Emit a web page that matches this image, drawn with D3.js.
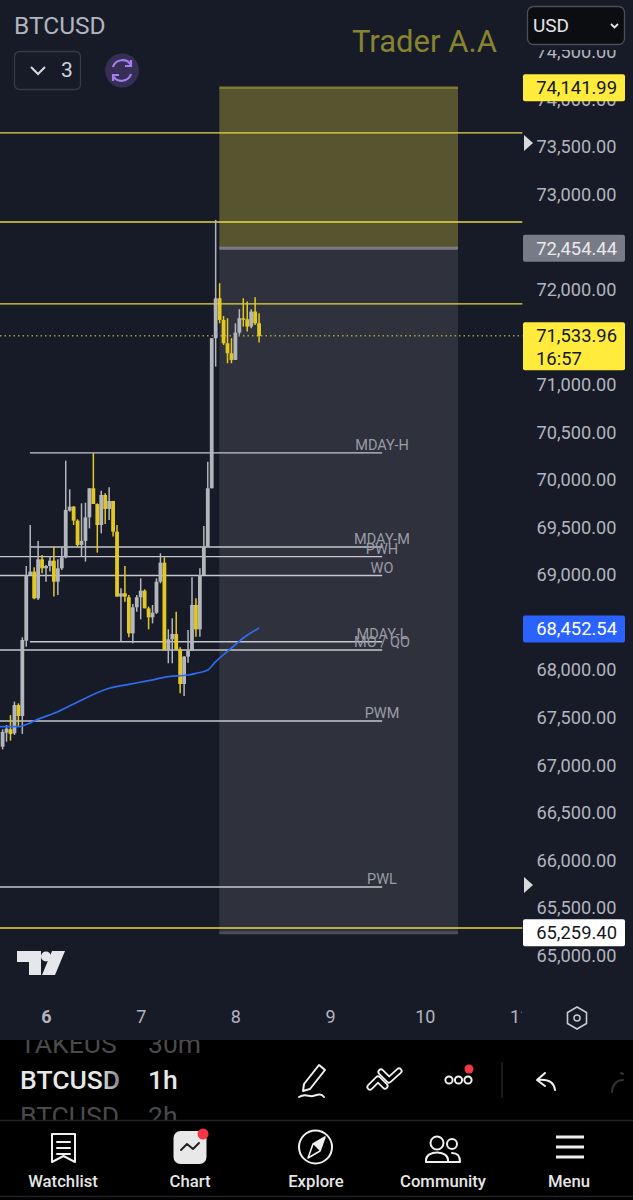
<!DOCTYPE html>
<html><head><meta charset="utf-8">
<script src="https://cdn.jsdelivr.net/npm/d3@7"></script>
<style>html,body{margin:0;padding:0;background:#000}svg{display:block}text{font-family:Roboto,sans-serif}</style>
</head><body><svg id="c" width="633" height="1200"></svg>
<script>
const hours=d3.range(-11,55);
const opens=[67190,67338,67373,67331,67628,67513,68305,68995,69031,68750,69160,69066,69090,69146,68925,69066,69181,69672,69714,69567,69311,69353,69602,69907,69742,69521,69837,69690,69774,69451,68768,68803,68761,68382,68656,68761,68831,68645,68550,68599,68925,69125,68207,68319,68375,68214,67849,68137,68200,68680,68424,68995,69293,69907,71485,71905,71677,71432,71327,71257,71544,71695,71684,71607,71765,71642];
const highs=[67373,67418,67523,67664,67646,68340,69090,69521,69076,69353,69206,69101,69188,69293,69160,69293,70198,69896,69721,69581,69749,69756,69907,70275,69749,69882,69854,69917,69774,69521,68855,69090,68785,68691,68785,68960,68845,68663,68680,68960,69223,69181,68424,68540,68610,68235,68144,68417,68971,68750,69066,69511,70187,71485,72729,72063,71719,71695,71485,71642,71790,71905,71870,71790,71916,71747];
const lows=[67162,67243,67254,67313,67401,67324,68242,68995,68740,68733,69013,68925,69031,68768,68785,69048,69171,69661,69521,69286,69195,69136,69486,69742,69230,69434,69532,69574,69399,68768,68295,68715,68340,68277,68610,68529,68645,68424,68487,68585,68908,68200,68067,68067,68207,67751,67723,68074,68200,68347,68347,68995,69293,69907,71187,71642,71414,71222,71222,71257,71520,71607,71555,71590,71625,71439];
const closes=[67345,67380,67324,67628,67513,68312,68995,69031,68750,69160,69066,69090,69146,68925,69066,69181,69679,69714,69567,69311,69353,69602,69907,69742,69521,69837,69690,69774,69451,68768,68803,68768,68382,68656,68761,68831,68645,68550,68599,68925,69125,68207,68319,68375,68214,67849,68137,68200,68680,68424,68995,69293,69907,71485,71905,71677,71432,71327,71257,71544,71695,71684,71607,71765,71642,71509];
const emaHours=[-12,-7,-4,-3,3,7,16,21,26,31,36,38,41,43,47,50,54];
const emaValues=[67401,67401,67439,67460,67558,67639,67804,67846,67884,67926,67944,67961,67997,68084,68228,68333,68438];
const priceTicks=d3.range(65000,75000,500).filter(v=>![72500,71500,68500].includes(v));
const dayTicks=[6,7,8,9,10,11];
const yellowLevels=[73643,72707,71845,65284];
const whiteLevelNames=["MDAY-H","MDAY-M","PWH","WO","MDAY-L","MO / QO","PWM","PWL"];
const whiteLevelValues=[70279,69290,69188,68990,68294,68207,67461,65715];
const whiteLevelStarts=[5.83,5.83,5.5,5.5,5.83,5.5,5.5,5.5];
const levelEnd=9.55, yellowEnd=11.03;
const zoneDays=[7.83,10.35];
const zonePrices=[74141.99,72454.44,65259.40];
const tagValues=[74141.99,72454.44,71533.96,68452.54,65259.40];
const tagLabels=["74,141.99","72,454.44","71,533.96","68,452.54","65,259.40"];
const tagFill=["#ffeb3b","#787b86","#ffeb3b","#2962ff","#ffffff"];
const tagText=["#131722","#e8e9ec","#131722","#ffffff","#131722"];
const navLabels=["Watchlist","Chart","Explore","Community","Menu"];

const svg=d3.select("#c");
const W=633,H=1200,TXT="#b2b5be",BG="#171b27",GOLD="#e2c824",GREY="#b4b6be";
const x=d3.scaleLinear().domain([6,11]).range([46,519.5]);
const xH=h=>x(6+h/24);
const y=d3.scaleLinear().domain([65000,74000]).range([955,99]);
const tagDy=2.3, yT=v=>y(v)+tagDy;

svg.append("rect").attr("width",W).attr("height",H).attr("fill","#000");
svg.append("rect").attr("width",W).attr("height",1040).attr("fill",BG);

// zone
const zx0=x(zoneDays[0]),zx1=x(zoneDays[1]);
svg.append("rect").attr("x",zx0).attr("width",zx1-zx0).attr("y",yT(zonePrices[0])).attr("height",yT(zonePrices[1])-yT(zonePrices[0])).attr("fill","#57552f");
svg.append("rect").attr("x",zx0).attr("width",zx1-zx0).attr("y",yT(zonePrices[1])).attr("height",yT(zonePrices[2])-yT(zonePrices[1])).attr("fill","#2f313c");
svg.append("line").attr("x1",zx0).attr("x2",zx1).attr("y1",yT(zonePrices[0])).attr("y2",yT(zonePrices[0])).attr("stroke","#7d7a2f").attr("stroke-width",2.5);
svg.append("line").attr("x1",zx0).attr("x2",zx1).attr("y1",yT(zonePrices[1])).attr("y2",yT(zonePrices[1])).attr("stroke","#787b86").attr("stroke-width",3);
svg.append("line").attr("x1",zx0).attr("x2",zx1).attr("y1",yT(zonePrices[2])).attr("y2",yT(zonePrices[2])).attr("stroke","#4a4c57").attr("stroke-width",3);

// axes
const ay=d3.axisRight(y).tickValues(priceTicks).tickFormat(d3.format(",.2f")).tickSize(0).tickPadding(0);
const gy=svg.append("g").attr("transform","translate(536.5,0.5)").call(ay);
gy.select(".domain").remove();
gy.selectAll("text").attr("fill",TXT).style("font-size","18.2px").style("font-family","Roboto,sans-serif");
svg.append("rect").attr("x",527).attr("y",44).attr("width",100).attr("height",6).attr("fill",BG);
svg.append("clipPath").attr("id","timeClip").append("rect").attr("x",0).attr("y",1000).attr("width",522).attr("height",40);
const ax=d3.axisBottom(x).tickValues(dayTicks).tickFormat(d3.format("d")).tickSize(0).tickPadding(0);
const gx=svg.append("g").attr("clip-path","url(#timeClip)").append("g").attr("transform","translate(0,1010.5)").call(ax);
gx.select(".domain").remove();
gx.selectAll("text").attr("fill",TXT).style("font-size","18px").style("font-family","Roboto,sans-serif").attr("font-weight",d=>d===6?700:400);

// levels
svg.selectAll(".yl").data(yellowLevels).join("line").attr("x1",0).attr("x2",x(yellowEnd)).attr("y1",d=>y(d)).attr("y2",d=>y(d)).attr("stroke","#e8d94a").attr("stroke-width",1.3);
whiteLevelValues.forEach((v,i)=>{
  svg.append("line").attr("x1",Math.max(0,x(whiteLevelStarts[i]))).attr("x2",x(levelEnd)).attr("y1",y(v)).attr("y2",y(v)).attr("stroke","#c6c7cd").attr("stroke-width",1.4);
  svg.append("text").attr("x",382).attr("y",y(v)-3).attr("text-anchor","middle").attr("fill","#9a9ca6").attr("font-size",14.5).text(whiteLevelNames[i]);
});
svg.append("line").attr("x1",0).attr("x2",x(yellowEnd)).attr("y1",yT(tagValues[2])).attr("y2",yT(tagValues[2])).attr("stroke","#e8d94a").attr("stroke-width",1).attr("stroke-dasharray","1.5 3");

// candles
const rows=hours.map((h,i)=>({h,o:opens[i],hi:highs[i],lo:lows[i],c:closes[i]}));
const col=d=>d.c>=d.o?GREY:GOLD;
const gc=svg.append("g");
gc.selectAll(".w").data(rows).join("line").attr("x1",d=>xH(d.h)).attr("x2",d=>xH(d.h)).attr("y1",d=>y(d.hi)).attr("y2",d=>y(d.lo)).attr("stroke",col).attr("stroke-width",1.5);
gc.selectAll(".b").data(rows).join("rect").attr("x",d=>xH(d.h)-1.9).attr("width",3.8).attr("y",d=>Math.min(y(d.o),y(d.c))).attr("height",d=>Math.max(1.5,Math.abs(y(d.o)-y(d.c)))).attr("fill",col);
// EMA
svg.append("path").attr("d",d3.line().x(d=>xH(d)).y((d,i)=>y(emaValues[i])).curve(d3.curveMonotoneX)(emaHours)).attr("fill","none").attr("stroke","#2f6bf0").attr("stroke-width",1.7);

// tags
tagValues.forEach((v,i)=>{
  const cy=yT(v), isLast=i===2, h=isLast?48:27, top=cy-13.5;
  svg.append("rect").attr("x",523).attr("y",top).attr("width",102).attr("height",h).attr("rx",2).attr("fill",tagFill[i]);
  svg.append("text").attr("x",617).attr("y",cy+6.5).attr("text-anchor","end").attr("fill",tagText[i]).attr("font-size",18.4).text(tagLabels[i]);
  if(isLast) svg.append("text").attr("x",536).attr("y",cy+29).attr("fill",tagText[i]).attr("font-size",18.4).text("16:57");
});
svg.selectAll(".tri").data([143,885]).join("path").attr("d",d=>`M524 ${d-8}L533 ${d}L524 ${d+8}Z`).attr("fill","#d8d9dd");

// header
const t=(s,xx,yy,size,fill,o={})=>svg.append("text").attr("x",xx).attr("y",yy).attr("font-size",size).attr("fill",fill).attr("text-anchor",o.a||"start").attr("font-weight",o.w||400).text(s);
t("BTCUSD",14,34,24.5,TXT);
t("Trader A.A",352,52,31,"#878330");
svg.append("rect").attr("x",14.5).attr("y",51.5).attr("width",66).attr("height",38).attr("rx",5).attr("fill","none").attr("stroke","#363a45").attr("stroke-width",1.3);
svg.append("path").attr("d","M31 67l7 7l7-7").attr("fill","none").attr("stroke","#d8d9dd").attr("stroke-width",2);
t("3",61,77,21,"#d1d4dc");
svg.append("circle").attr("cx",122).attr("cy",70.5).attr("r",17).attr("fill","#352e55");
svg.append("path").attr("d","M113 67a10 10 0 0 1 18-2M131 74a10 10 0 0 1-18 2M131 60v6h-6M113 81v-6h6").attr("fill","none").attr("stroke","#a67df0").attr("stroke-width",2.2);
svg.append("rect").attr("x",527.5).attr("y",6.5).attr("width",97).attr("height",38).attr("rx",6).attr("fill","#0c0d10").attr("stroke","#4a4e59").attr("stroke-width",1.3);
t("USD",533,32,19,"#e4e5e9");
svg.append("path").attr("d","M611 24l3.5 3.5l3.5-3.5").attr("fill","none").attr("stroke","#e4e5e9").attr("stroke-width",1.8);

// TV logo
svg.append("path").attr("d","M17 951H41V975H29V962H17ZM52 951H65L55 975H42Z").attr("fill","#e6e7ea");
svg.append("circle").attr("cx",46).attr("cy",956.5).attr("r",5).attr("fill","#e6e7ea");
svg.append("path").attr("d","M577 1007l9.5 5.5v11l-9.5 5.5l-9.5-5.5v-11Z").attr("fill","none").attr("stroke","#c8cad0").attr("stroke-width",1.6);
svg.append("circle").attr("cx",577).attr("cy",1018).attr("r",3).attr("fill","none").attr("stroke","#c8cad0").attr("stroke-width",1.5);

// watchlist wheel
const grad=svg.append("linearGradient").attr("id","fade").attr("gradientUnits","userSpaceOnUse").attr("x1",100).attr("x2",122).attr("y1",0).attr("y2",0);
grad.append("stop").attr("offset",0).attr("stop-color","#e8e8e8");
grad.append("stop").attr("offset",1).attr("stop-color","#777");
svg.append("clipPath").attr("id","wheel").append("rect").attr("x",0).attr("y",1040).attr("width",W).attr("height",80);
const wheel=svg.append("g").attr("clip-path","url(#wheel)");
[["TAKEUS","30m",1053,"#4a4a4c",400],["BTCUSD","1h",1089,"url(#fade)",500],["BTCUSD","2h",1125,"#4a4a4c",400]].forEach(r=>{
  wheel.append("text").attr("x",20).attr("y",r[2]).attr("font-size",26.5).attr("fill",r[3]).attr("font-weight",r[4]).text(r[0]);
  wheel.append("text").attr("x",148).attr("y",r[2]).attr("font-size",26.5).attr("fill",r[3]==="url(#fade)"?"#e8e8e8":r[3]).attr("font-weight",r[4]).text(r[1]);
});
const s=(d,w=2,c="#f0f0f0",f="none")=>svg.append("path").attr("d",d).attr("fill",f).attr("stroke",c).attr("stroke-width",w).attr("stroke-linecap","round").attr("stroke-linejoin","round");
// tools
s("M304 1084l15-19l6 5l-15 19l-7 2ZM299 1097c6-4 10 0 14-1s8-3 11 1");
["M370 1087l8-8l7 7","M381 1072l8 8l10-9"].forEach(d=>{s(d,7,"#f0f0f0");s(d,3.4,"#000");});
[449,458.5,468].forEach(c=>svg.append("circle").attr("cx",c).attr("cy",1080).attr("r",3.6).attr("fill","none").attr("stroke","#f0f0f0").attr("stroke-width",2));
svg.append("circle").attr("cx",469).attr("cy",1069).attr("r",4.5).attr("fill","#f23645");
svg.append("line").attr("x1",502).attr("x2",502).attr("y1",1062).attr("y2",1098).attr("stroke","#2a2a2c").attr("stroke-width",1.3);
s("M545 1073l-8 7l8 6M538 1080c10-1 16 2 17 10");
s("M623 1074l-2-1M612 1092c0-6 4-12 11-12",2,"#333");
svg.append("line").attr("x1",0).attr("x2",W).attr("y1",1120.5).attr("y2",1120.5).attr("stroke","#232325").attr("stroke-width",1.3);
svg.append("line").attr("x1",0).attr("x2",W).attr("y1",1196.5).attr("y2",1196.5).attr("stroke","#232325").attr("stroke-width",1.3);

// nav
const navX=[63,190,316,443,569];
navLabels.forEach((n,i)=>t(n,navX[i],1187,16.7,"#e6e6e6",{a:"middle",w:500}));
s("M52 1134H75V1162L63.5 1156L52 1162ZM57 1142H70M57 1148H70M57 1154H70",2);
svg.append("rect").attr("x",173.5).attr("y",1131).attr("width",33).attr("height",33).attr("rx",7).attr("fill","#e8e8e8");
s("M181 1150l6-6l6 5l6-6",2,"#222");
svg.append("circle").attr("cx",203).attr("cy",1134).attr("r",5.5).attr("fill","#f23645");
svg.append("circle").attr("cx",315.5).attr("cy",1147).attr("r",16.5).attr("fill","none").attr("stroke","#f0f0f0").attr("stroke-width",2);
s("M325 1137l-5 14l-12 7l5-14Z",1.6,"#f0f0f0");
svg.append("path").attr("d","M325 1137l-12 7l7 7Z").attr("fill","#f0f0f0");
svg.append("circle").attr("cx",437).attr("cy",1143).attr("r",6.5).attr("fill","none").attr("stroke","#f0f0f0").attr("stroke-width",2);
svg.append("circle").attr("cx",452).attr("cy",1144).attr("r",5).attr("fill","none").attr("stroke","#f0f0f0").attr("stroke-width",2);
s("M426 1160c0-10 22-10 22 0v2h-22ZM452 1153c6 0 8 3 8 9h-12",2);
svg.selectAll(".m").data([1137,1147,1157]).join("rect").attr("x",556).attr("width",28).attr("y",d=>d-1.5).attr("height",3).attr("fill","#eeeeee");
</script></body></html>
